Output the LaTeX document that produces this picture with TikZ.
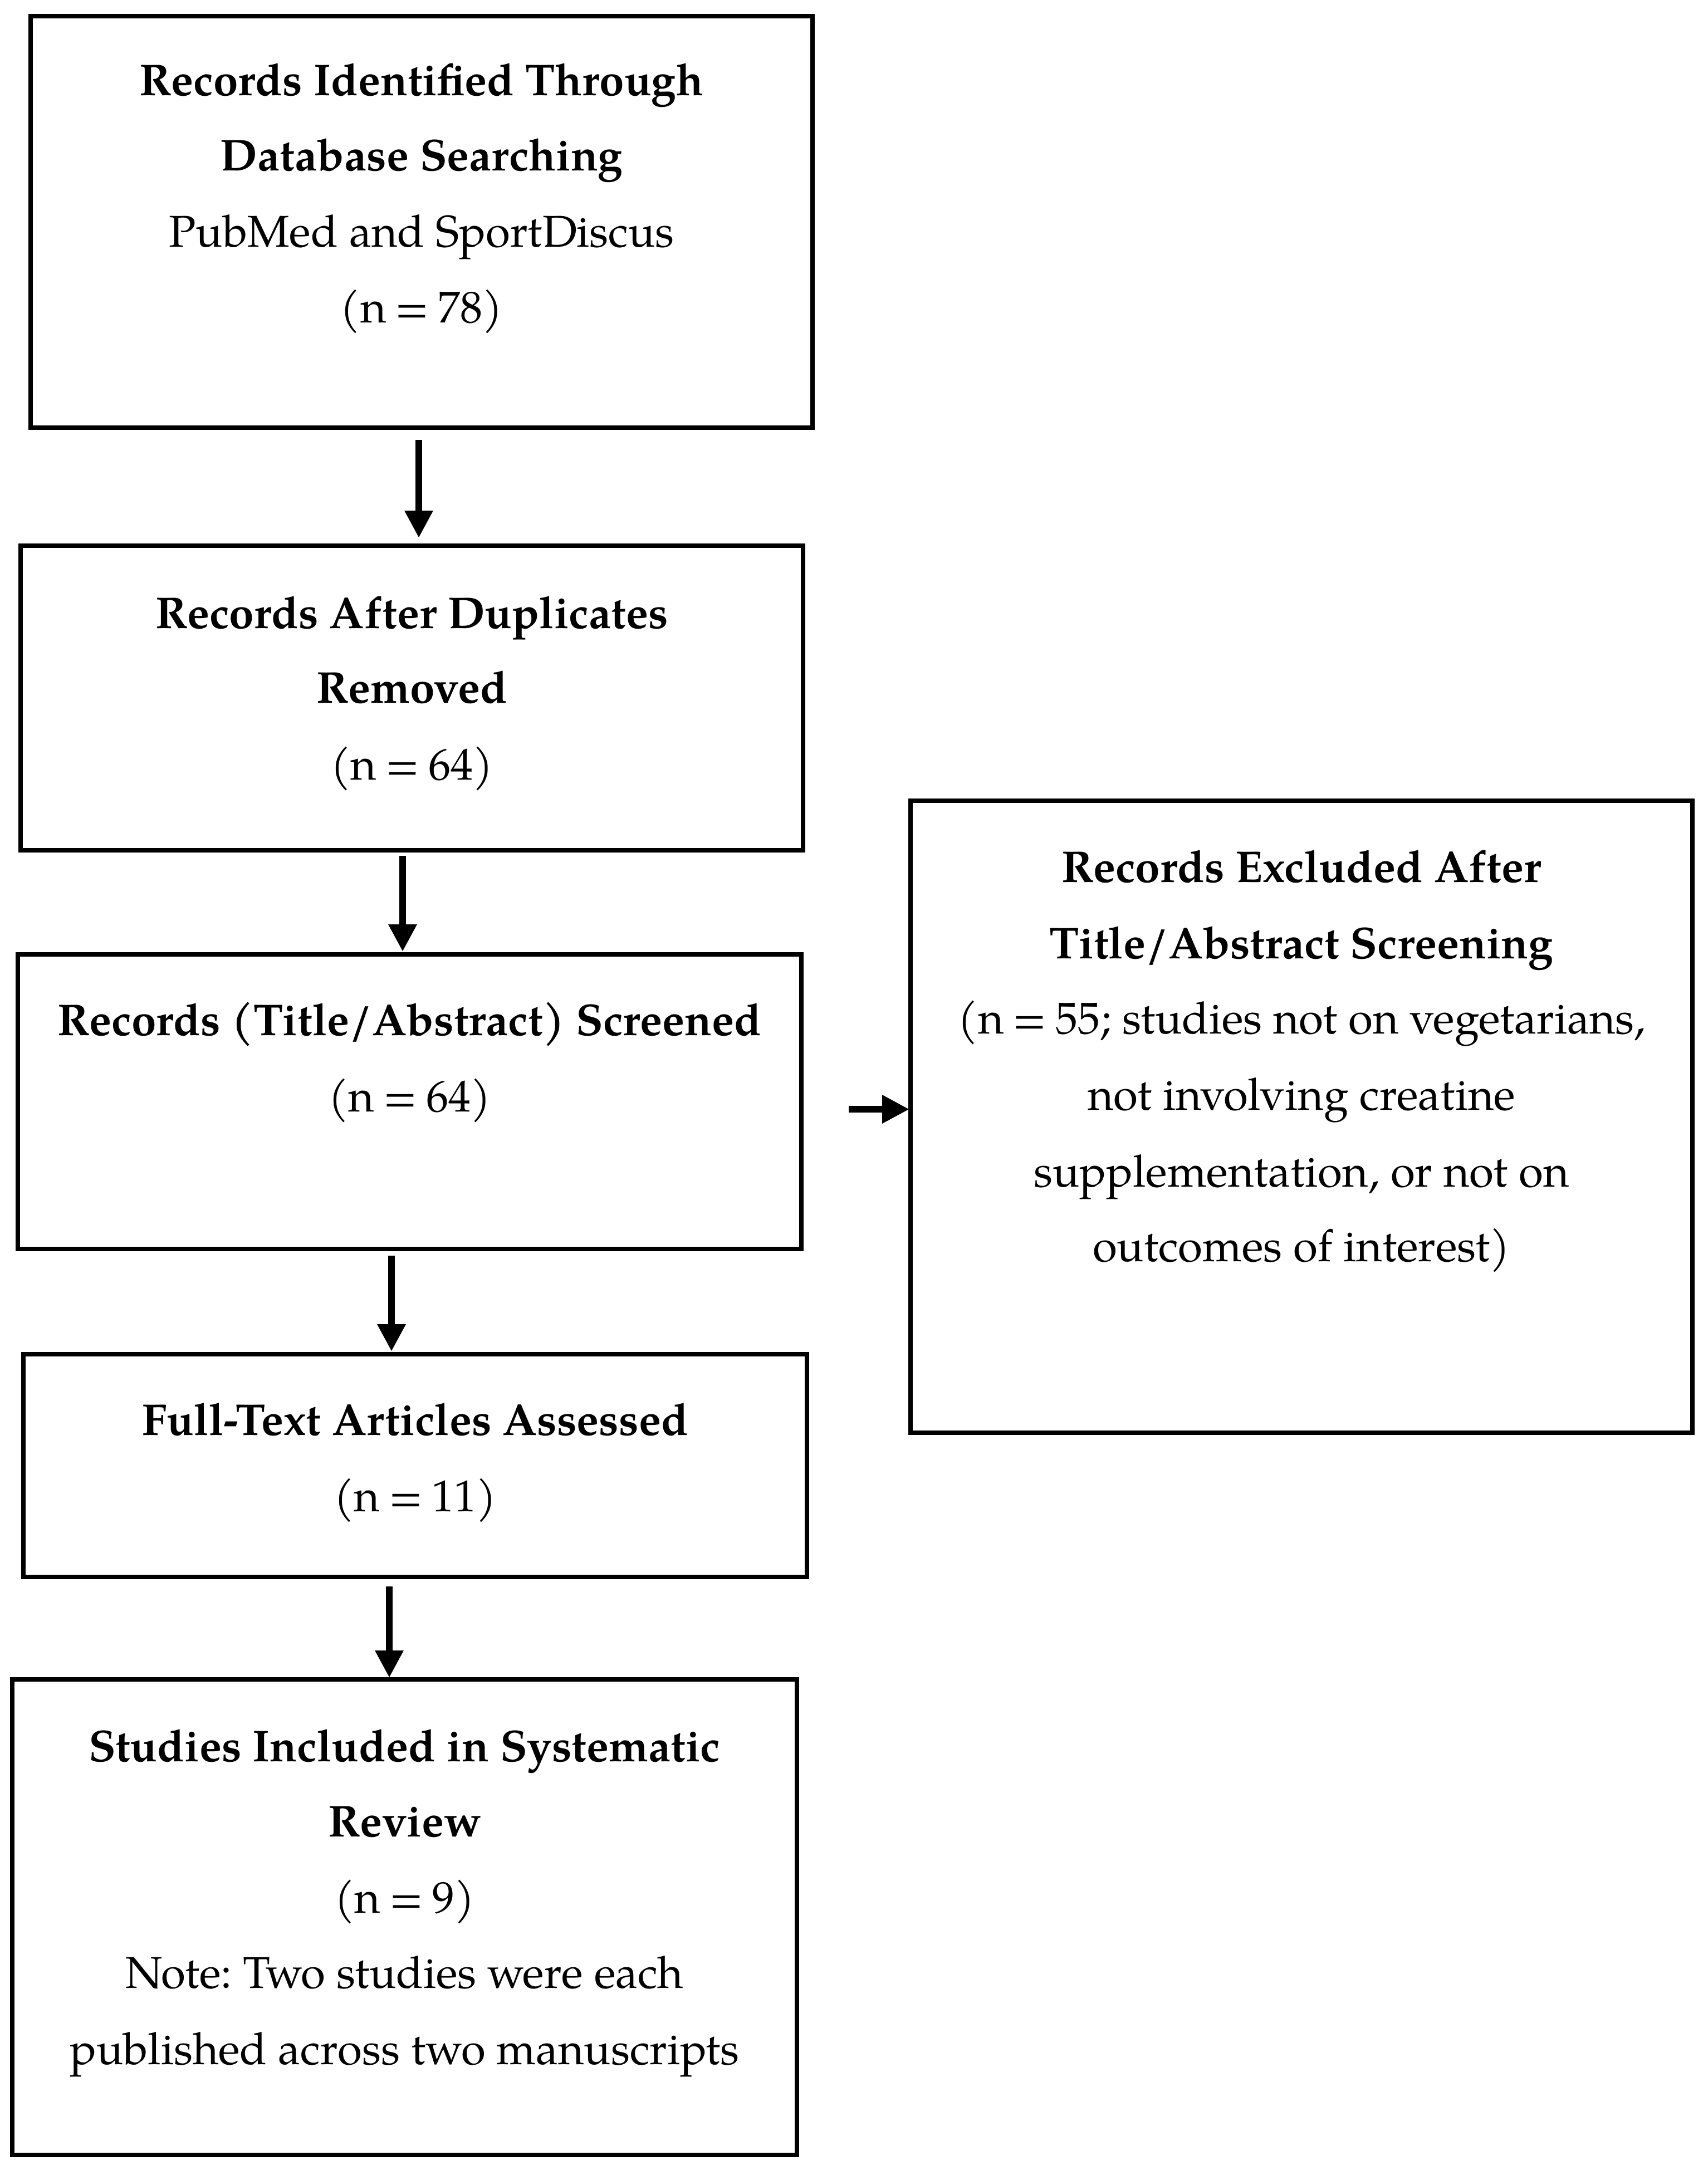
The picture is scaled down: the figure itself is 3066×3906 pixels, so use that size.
\documentclass[tikz,border=0pt]{standalone}
\usepackage{fontspec}
\setmainfont{TeX Gyre Pagella}
\usetikzlibrary{arrows.meta,calc}
\frenchspacing
\newcommand{\myeq}{\hspace{0.2em}=\hspace{0.2em}}
\begin{document}
\begin{tikzpicture}[x=0.25pt,y=-0.25pt,
  box/.style={draw,line width=1.9pt,inner sep=0pt,outer sep=0pt},
  ln/.style={anchor=base,inner sep=0pt,font=\fontsize{20}{34}\selectfont},
  hd/.style={anchor=base,inner sep=0pt,font=\fontsize{20}{34}\selectfont\bfseries},
  arr/.style={line width=3.2pt,-{Triangle[width=12pt,length=12.25pt]}}]
\useasboundingbox (0,0) rectangle (3066,3906);

% boxes
\node[box,minimum width=351pt,minimum height=184.75pt] (b1) at (757,398.5) {};
\node[box,minimum width=351.25pt,minimum height=136.75pt] (b2) at (739.5,1253.5) {};
\node[box,minimum width=351.75pt,minimum height=132.25pt] (b3) at (735.5,1978.5) {};
\node[box,minimum width=351.75pt,minimum height=100pt] (b4) at (745.5,2632) {};
\node[box,minimum width=352.25pt,minimum height=213.5pt] (b5) at (726.5,3443) {};
\node[box,minimum width=351pt,minimum height=283.75pt] (b6) at (2337,2005.5) {};

% box 1 text
\node[hd] (t1a) at (757,172) {Records Identified Through};
\node[hd] (t1b) at (757,307) {Database Searching};
\node[ln] (t1c) at (757,444) {PubMed and SportDiscus};
\node[ln] (t1d) at (757,579) {(n\myeq78)};

% box 2 text
\node[hd] (t2a) at (739.5,1128) {Records After Duplicates};
\node[hd] (t2b) at (739.5,1262) {Removed};
\node[ln] (t2c) at (739.5,1400) {(n\myeq64)};

% box 3 text
\node[hd] (t3a) at (735.5,1859) {Records (Title/Abstract) Screened};
\node[ln] (t3b) at (735.5,1996) {(n\myeq64)};

% box 4 text
\node[hd] (t4a) at (745.5,2577) {Full-Text Articles Assessed};
\node[ln] (t4b) at (745.5,2714) {(n\myeq11)};

% box 5 text
\node[hd] (t5a) at (726.5,3163) {Studies Included in Systematic};
\node[hd] (t5b) at (726.5,3298) {Review};
\node[ln] (t5c) at (726.5,3435) {(n\myeq9)};
\node[ln] (t5d) at (726.5,3570) {Note: Two studies were each};
\node[ln] (t5e) at (726.5,3707) {published across two manuscripts};

% box 6 text
\node[hd] (t6a) at (2337,1584) {Records Excluded After};
\node[hd] (t6b) at (2337,1721) {Title/Abstract Screening};
\node[ln] (t6c) at (2337,1856) {(n\myeq55; studies not on vegetarians,};
\node[ln] (t6d) at (2337,1993) {not involving creatine};
\node[ln] (t6e) at (2337,2131) {supplementation, or not on};
\node[ln] (t6f) at (2337,2265) {outcomes of interest)};

% arrows
\draw[arr] ($(b1.south)+(-5,22)$) -- ($(b2.north)+(12.5,-14)$);
\draw[arr] ($(b2.south)+(-16.5,10)$) -- ($(b3.north)+(-12.5,-5)$);
\draw[arr] ($(b3.south)+(-32.5,12)$) -- ($(b4.north)+(-42.5,-5)$);
\draw[arr] ($(b4.south)+(-46.5,17)$) -- ($(b5.north)+(-27.5,-3)$);
\draw[arr] ($(b3.east)+(85,13.5)$) -- ($(b6.west)+(-2,-13.5)$);
\end{tikzpicture}
\end{document}
